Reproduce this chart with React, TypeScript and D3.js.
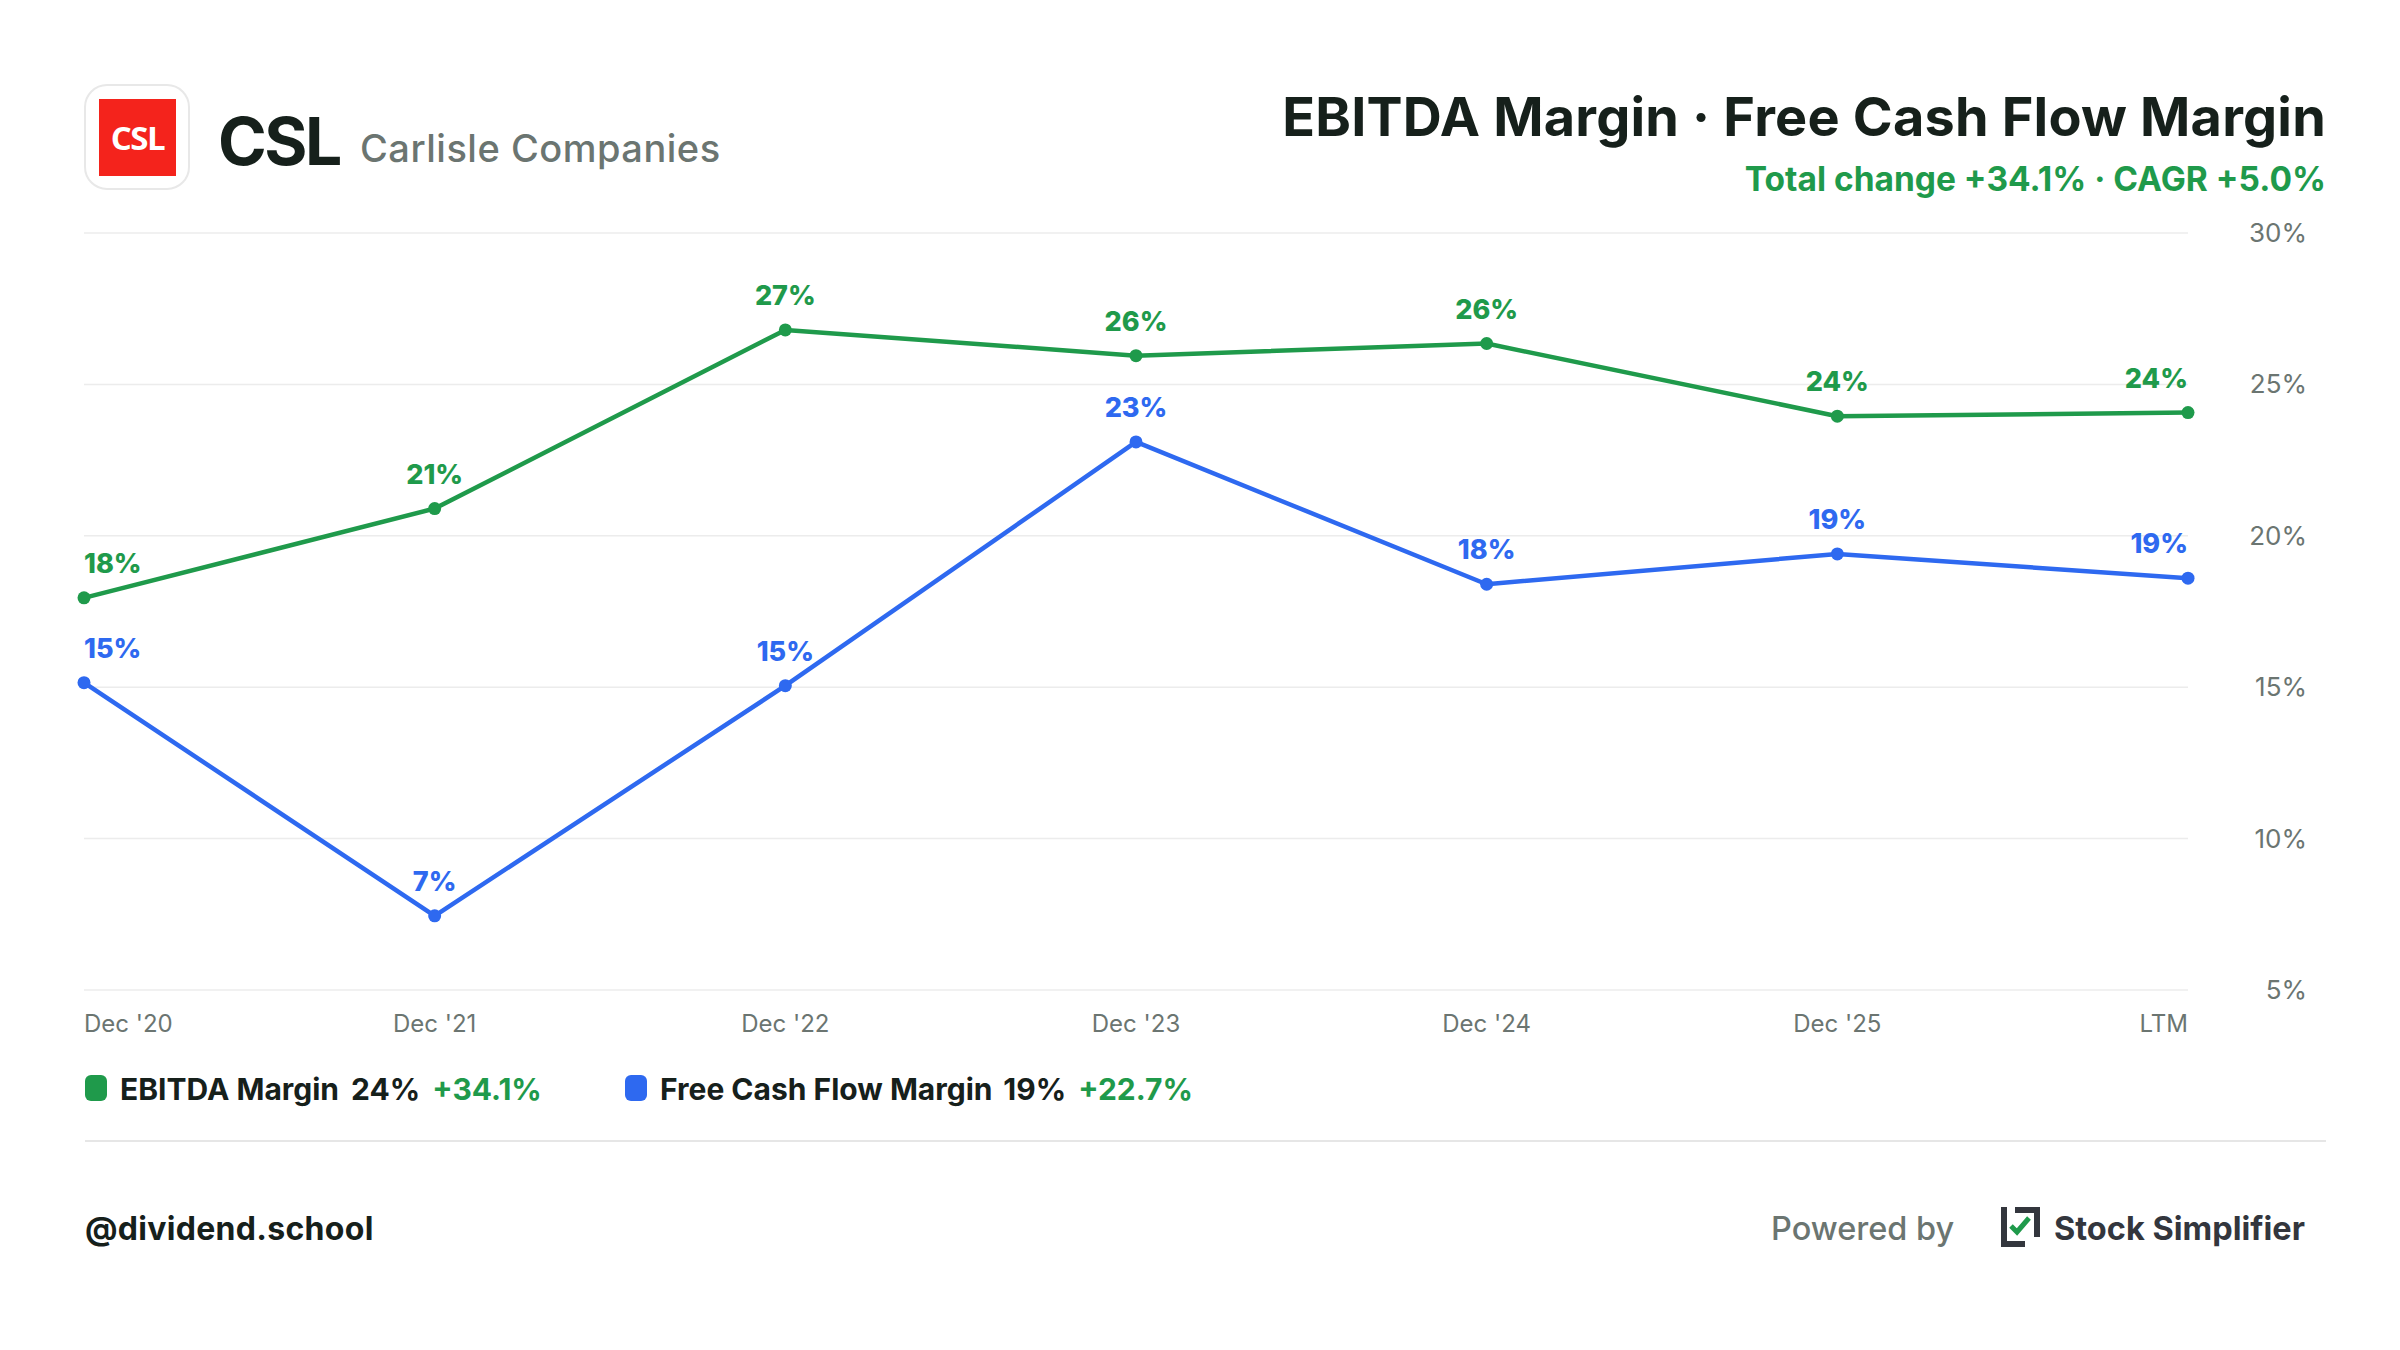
import React from "react";
import * as d3 from "d3";

const periods = ["Dec '20", "Dec '21", "Dec '22", "Dec '23", "Dec '24", "Dec '25", "LTM"];
const ebitdaMargin = [17.95, 20.9, 26.8, 25.95, 26.35, 23.95, 24.07];
const fcfMargin = [15.15, 7.45, 15.05, 23.1, 18.4, 19.4, 18.6];
const yTicks = [5, 10, 15, 20, 25, 30];

const GREEN = "#1f9a4b";
const BLUE = "#2e69f0";
const DARK = "#16201b";
const GRAY = "#6b7571";
const FONT = "Inter, 'Open Sans', sans-serif";

const W = 2400;
const H = 1350;

export default function App() {
  const x = d3.scalePoint<string>().domain(periods).range([84, 2188]);
  const y = d3.scaleLinear().domain([5, 30]).range([990, 233]);
  const line = d3
    .line<number>()
    .x((_, i) => x(periods[i]) as number)
    .y((d) => y(d));
  const pct = (v: number) => `${d3.format(".0f")(v)}%`;
  const n = periods.length;
  const anchorFor = (i: number) => (i === 0 ? "start" : i === n - 1 ? "end" : "middle");

  const series = [
    { name: "EBITDA Margin", values: ebitdaMargin, color: GREEN },
    { name: "Free Cash Flow Margin", values: fcfMargin, color: BLUE },
  ];

  return (
    <div style={{ position: "absolute", left: 0, top: 0 }}>
      <svg width={W} height={H} viewBox={`0 0 ${W} ${H}`} style={{ display: "block", background: "#fff" }}>
        <rect x={0} y={0} width={W} height={H} fill="#fff" />
        {/* Header logo */}
        <rect x={85} y={85} width={104} height={104} rx={22} fill="#fff" stroke="#e8e8e8" strokeWidth={2} />
        <rect x={99} y={99} width={77} height={77} fill="#f4231c" />
        <text x={137.5} y={150} textAnchor="middle" fill="#fff" fontFamily="'Open Sans', sans-serif" fontWeight={700} fontSize={33} letterSpacing={-1.5}>
          CSL
        </text>
        <text x={218} y={165} fill={DARK} fontFamily={FONT} fontWeight={700} fontSize={66} letterSpacing={-2.5}>
          CSL
        </text>
        <text x={360} y={162} fill={GRAY} fontFamily={FONT} fontWeight={500} fontSize={38} letterSpacing={0.5}>
          Carlisle Companies
        </text>

        {/* Title */}
        <text x={2326} y={136} textAnchor="end" fill={DARK} fontFamily={FONT} fontWeight={700} fontSize={54} letterSpacing={0.2}>
          EBITDA Margin · Free Cash Flow Margin
        </text>
        <text x={2326} y={191} textAnchor="end" fill={GREEN} fontFamily={FONT} fontWeight={700} fontSize={33.5}>
          Total change +34.1% · CAGR +5.0%
        </text>

        {/* Grid */}
        {yTicks.map((t) => (
          <g key={t}>
            <line x1={84} x2={2188} y1={y(t)} y2={y(t)} stroke="#ececec" strokeWidth={1.5} />
            <text x={2307} y={y(t) + 9} textAnchor="end" fill={GRAY} fontFamily={FONT} fontSize={26}>
              {`${t}%`}
            </text>
          </g>
        ))}

        {/* X labels */}
        {periods.map((p, i) => (
          <text key={p} x={x(p)} y={1032} textAnchor={anchorFor(i)} fill={GRAY} fontFamily={FONT} fontSize={24}>
            {p}
          </text>
        ))}

        {/* Lines */}
        {series.map((s) => (
          <g key={s.name}>
            <path d={line(s.values) ?? ""} fill="none" stroke={s.color} strokeWidth={4.5} strokeLinejoin="round" />
            {s.values.map((v, i) => (
              <circle key={i} cx={x(periods[i])} cy={y(v)} r={6.5} fill={s.color} />
            ))}
            {s.values.map((v, i) => (
              <text
                key={"l" + i}
                x={x(periods[i])}
                y={y(v) - 25}
                textAnchor={anchorFor(i)}
                fill={s.color}
                fontFamily={FONT}
                fontWeight={800}
                fontSize={27}
              >
                {pct(v)}
              </text>
            ))}
          </g>
        ))}

        {/* Legend */}
        <rect x={85} y={1075} width={22} height={26} rx={6} fill={GREEN} />
        <text x={120} y={1100} fontFamily={FONT} fontWeight={700} fontSize={30}>
          <tspan fill={DARK}>EBITDA Margin</tspan>
          <tspan dx={12} fill={DARK}>24%</tspan>
          <tspan dx={12} fill={GREEN}>+34.1%</tspan>
        </text>
        <rect x={625} y={1075} width={22} height={26} rx={6} fill={BLUE} />
        <text x={660} y={1100} fontFamily={FONT} fontWeight={700} fontSize={30}>
          <tspan fill={DARK}>Free Cash Flow Margin</tspan>
          <tspan dx={12} fill={DARK}>19%</tspan>
          <tspan dx={12} fill={GREEN}>+22.7%</tspan>
        </text>

        <line x1={85} x2={2326} y1={1141} y2={1141} stroke="#e6e6e6" strokeWidth={2} />

        {/* Footer */}
        <text x={85} y={1240} fill={DARK} fontFamily={FONT} fontWeight={700} fontSize={32} letterSpacing={0.3}>
          @dividend.school
        </text>
        <text x={1771} y={1240} fill={GRAY} fontFamily={FONT} fontWeight={500} fontSize={32.5}>
          Powered by
        </text>
        <g transform="translate(2001,1207)">
          <path d="M0,0 H6 V34 H24 V40 H0 Z" fill="#33363d" />
          <path d="M14,0 H39 V30 H33 V6 H14 Z" fill="#33363d" />
          <path d="M10,19 L16,25 L28,11" fill="none" stroke={GREEN} strokeWidth={5} />
        </g>
        <text x={2054} y={1240} fill="#33363d" fontFamily={FONT} fontWeight={700} fontSize={32.5}>
          Stock Simplifier
        </text>
      </svg>
    </div>
  );
}
